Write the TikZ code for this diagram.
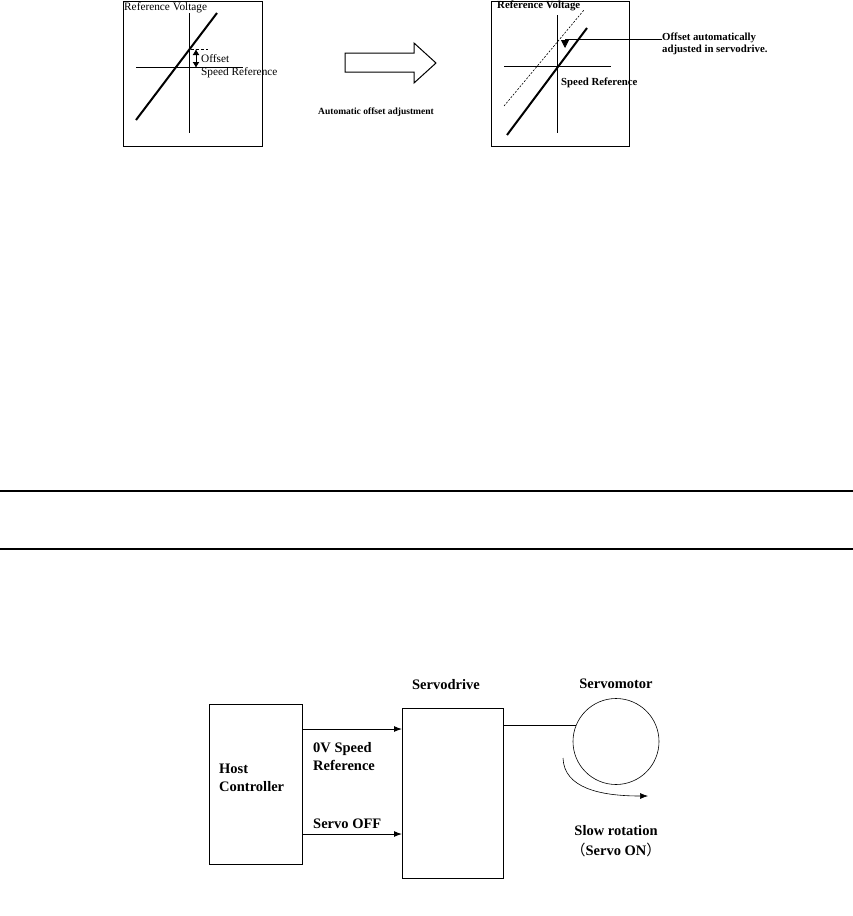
\documentclass[tikz,border=0pt]{standalone}
\usepackage{fontspec}
\setmainfont{Liberation Serif}
\newfontfamily\cjk{Noto Sans CJK SC}
\usetikzlibrary{arrows.meta}
\tikzset{
  frame/.style={line width=1pt},
  axis/.style={line width=1pt},
  graphline/.style={line width=2pt},
  lbl/.style={inner sep=0pt, font=\fontsize{11.3}{13}\selectfont},
  blbl/.style={inner sep=0pt, font=\bfseries\fontsize{10.8}{12}\selectfont},
  btxt/.style={inner sep=0pt, font=\bfseries\fontsize{14.5}{18}\selectfont},
  blockbox/.style={draw, line width=1pt, anchor=north west, inner sep=0pt},
  sig/.style={line width=1pt, -{Latex[length=8pt,width=6pt]}},
}
\begin{document}
\begin{tikzpicture}[x=1pt,y=-1pt]
\useasboundingbox (0,0) rectangle (853,916);
% ---------- left panel ----------
\draw[frame] (123,1) rectangle (262,146);
\draw[axis] (189,13) -- (189,133);
\draw[axis] (136,67) -- (243,67);
\draw[graphline] (136,120) -- (217,13);
\draw[line width=0.8pt, dash pattern=on 3pt off 2pt] (191,49) -- (208,49);
\draw[line width=1pt, {Latex[length=6pt,width=7pt]}-{Latex[length=6pt,width=7pt]}] (196,49) -- (196,68);
\node[lbl, anchor=west] (offs) at (201,59) {Offset};
\node[lbl, anchor=west] (spdL) at (201,73) {Speed Reference};
\node[lbl, anchor=west] (refL) at (124,8) {Reference Voltage};
% ---------- big arrow ----------
\draw[line width=1pt] (345,53) -- (414,53) -- (414,43) -- (436,63) -- (414,83) -- (414,72) -- (345,72) -- cycle;
\node[blbl, font=\bfseries\fontsize{9.5}{12}\selectfont] (auto) at (376,112) {Automatic offset adjustment};
% ---------- right panel ----------
\draw[frame] (491,1) rectangle (629,146);
\draw[axis] (557,15) -- (557,133);
\draw[axis] (504,66) -- (611,66);
\draw[line width=0.6pt, dash pattern=on 2pt off 1.5pt] (504,106) -- (584,10);
\draw[graphline] (507,135) -- (587,28);
\node[blbl, anchor=west] (refR) at (497,6) {Reference Voltage};
\node[blbl, anchor=west] (spdR) at (561,83) {Speed Reference};
\node[blbl, anchor=west, align=left] (note) at (662,44) {Offset automatically\\adjusted in servodrive.};
\coordinate (tip) at (565,48);
\draw[line width=0.8pt, -{Triangle[length=8pt,width=8pt]}] ([yshift=5pt]note.west) -| (tip);
% ---------- rules ----------
\draw[line width=2pt] (0,491) -- (853,491);
\draw[line width=2pt] (0,549) -- (853,549);
% ---------- bottom block diagram ----------
\node[blockbox, minimum width=93pt, minimum height=160pt] (host) at (209,704) {};
\node[btxt, anchor=west, align=left] (hostlbl) at (219,778) {Host\\Controller};
\node[blockbox, minimum width=101pt, minimum height=170pt] (drive) at (402,708) {};
\node[btxt] (drivelbl) at (446,685) {Servodrive};
\coordinate (a1) at (0,729);
\coordinate (a2) at (0,834);
\draw[sig] (host.east |- a1) -- (drive.west |- a1);
\draw[sig] (host.east |- a2) -- (drive.west |- a2);
\node[btxt, anchor=west, align=left] (zero) at (313,757) {0V Speed\\Reference};
\node[btxt, anchor=west] (off) at (313,824) {Servo OFF};
\node[circle, draw, line width=0.6pt, minimum size=86pt, inner sep=0pt] (motor) at (616,741.5) {};
\node[btxt] (motorlbl) at (616,684) {Servomotor};
\draw[line width=1pt] (drive.east |- motor.159) -- (motor.159);
\coordinate (cs) at (563,758);
\coordinate (ce) at (648,796);
\draw[line width=0.6pt, -{Latex[length=8pt,width=6pt]}] (cs) .. controls (564,788) and (600,796) .. (ce);
\node[btxt] (slow) at (616,831) {Slow rotation};
\node[btxt] (son) at (616,850) {{\cjk\mdseries （}Servo ON{\cjk\mdseries ）}};
\end{tikzpicture}
\end{document}
